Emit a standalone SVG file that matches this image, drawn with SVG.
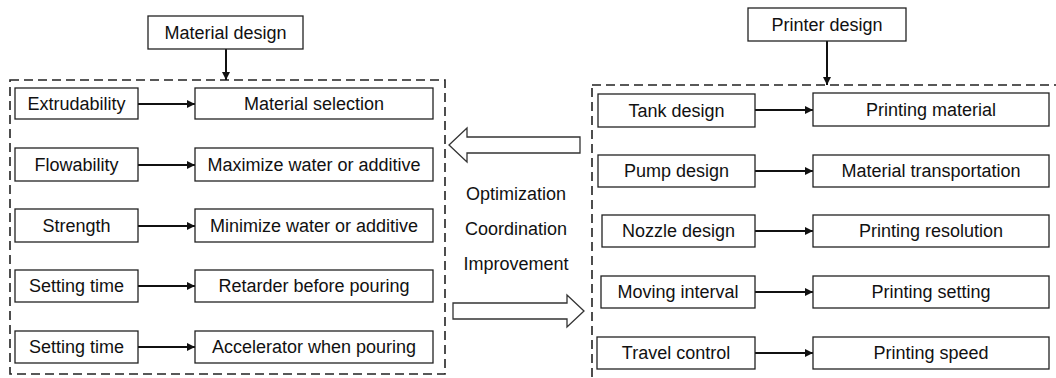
<svg xmlns="http://www.w3.org/2000/svg" width="1056" height="378" viewBox="0 0 1056 378">
<defs>
<style>
.box{fill:#fff;stroke:#222;stroke-width:1.3}
.dash{fill:none;stroke:#222;stroke-width:1.6;stroke-dasharray:9 5}
.t{font-family:"Liberation Sans",Arial,sans-serif;font-size:18px;fill:#111;text-anchor:middle}
.c{stroke:#111;stroke-width:2;fill:none;marker-end:url(#ah)}
.big{fill:#fff;stroke:#333;stroke-width:1.3}
</style>
<marker id="ah" viewBox="0 0 10 10" refX="10" refY="5" markerWidth="4" markerHeight="4" markerUnits="strokeWidth" orient="auto">
<path d="M0,0 L10,5 L0,10 z" fill="#111"/>
</marker>
</defs>
<rect width="1056" height="378" fill="#fff"/>
<g id="frames">
<rect class="dash" x="10" y="80" width="435" height="294"/>
<rect class="dash" x="592" y="85" width="480" height="310"/>
</g>
<g id="connectors">
<line class="c" x1="226" y1="49" x2="226" y2="80"/>
<line class="c" x1="827" y1="41" x2="827" y2="85"/>
<line class="c" x1="138" y1="104" x2="195" y2="104"/>
<line class="c" x1="138" y1="165" x2="195" y2="165"/>
<line class="c" x1="138" y1="226" x2="195" y2="226"/>
<line class="c" x1="138" y1="286" x2="195" y2="286"/>
<line class="c" x1="138" y1="347" x2="195" y2="347"/>
<line class="c" x1="755" y1="110" x2="813" y2="110"/>
<line class="c" x1="755" y1="171" x2="813" y2="171"/>
<line class="c" x1="755" y1="231" x2="813" y2="231"/>
<line class="c" x1="755" y1="292" x2="813" y2="292"/>
<line class="c" x1="755" y1="353" x2="813" y2="353"/>
<path class="big" d="M580,137 L467,137 L467,128 L449,145 L467,162 L467,153 L580,153 Z"/>
<path class="big" d="M453,303 L567,303 L567,295 L584,311 L567,327 L567,319 L453,319 Z"/>
</g>
<g id="material-design"><rect class="box" x="148" y="16" width="155" height="33"/><text class="t" x="225.5" y="39">Material design</text></g>
<g id="printer-design"><rect class="box" x="748" y="8" width="158" height="33"/><text class="t" x="827" y="31">Printer design</text></g>
<g id="extrudability"><rect class="box" x="15" y="88" width="123" height="31"/><text class="t" x="76.5" y="110">Extrudability</text></g>
<g id="material-selection"><rect class="box" x="195" y="88" width="238" height="31"/><text class="t" x="314" y="110">Material selection</text></g>
<g id="flowability"><rect class="box" x="15" y="148" width="123" height="33"/><text class="t" x="76.5" y="171">Flowability</text></g>
<g id="maximize"><rect class="box" x="195" y="148" width="238" height="33"/><text class="t" x="314" y="171">Maximize water or additive</text></g>
<g id="strength"><rect class="box" x="15" y="209" width="123" height="33"/><text class="t" x="76.5" y="232">Strength</text></g>
<g id="minimize"><rect class="box" x="195" y="209" width="238" height="33"/><text class="t" x="314" y="232">Minimize water or additive</text></g>
<g id="setting-time-1"><rect class="box" x="15" y="270" width="123" height="32"/><text class="t" x="76.5" y="292">Setting time</text></g>
<g id="retarder"><rect class="box" x="195" y="270" width="238" height="32"/><text class="t" x="314" y="292">Retarder before pouring</text></g>
<g id="setting-time-2"><rect class="box" x="15" y="331" width="123" height="32"/><text class="t" x="76.5" y="353">Setting time</text></g>
<g id="accelerator"><rect class="box" x="195" y="331" width="238" height="32"/><text class="t" x="314" y="353">Accelerator when pouring</text></g>
<g id="tank-design"><rect class="box" x="598" y="94" width="157" height="33"/><text class="t" x="676.5" y="117">Tank design</text></g>
<g id="printing-material"><rect class="box" x="813" y="93" width="236" height="33"/><text class="t" x="931" y="116">Printing material</text></g>
<g id="pump-design"><rect class="box" x="598" y="155" width="157" height="32"/><text class="t" x="676.5" y="177">Pump design</text></g>
<g id="material-transportation"><rect class="box" x="813" y="155" width="236" height="32"/><text class="t" x="931" y="177">Material transportation</text></g>
<g id="nozzle-design"><rect class="box" x="602" y="215" width="153" height="32"/><text class="t" x="678.5" y="237">Nozzle design</text></g>
<g id="printing-resolution"><rect class="box" x="813" y="215" width="236" height="32"/><text class="t" x="931" y="237">Printing resolution</text></g>
<g id="moving-interval"><rect class="box" x="601" y="276" width="154" height="32"/><text class="t" x="678" y="298">Moving interval</text></g>
<g id="printing-setting"><rect class="box" x="813" y="276" width="236" height="32"/><text class="t" x="931" y="298">Printing setting</text></g>
<g id="travel-control"><rect class="box" x="597" y="337" width="158" height="32"/><text class="t" x="676" y="359">Travel control</text></g>
<g id="printing-speed"><rect class="box" x="813" y="337" width="236" height="32"/><text class="t" x="931" y="359">Printing speed</text></g>
<g id="center-labels">
<text class="t" x="516" y="200">Optimization</text>
<text class="t" x="516" y="235">Coordination</text>
<text class="t" x="516" y="270">Improvement</text>
</g>
</svg>
